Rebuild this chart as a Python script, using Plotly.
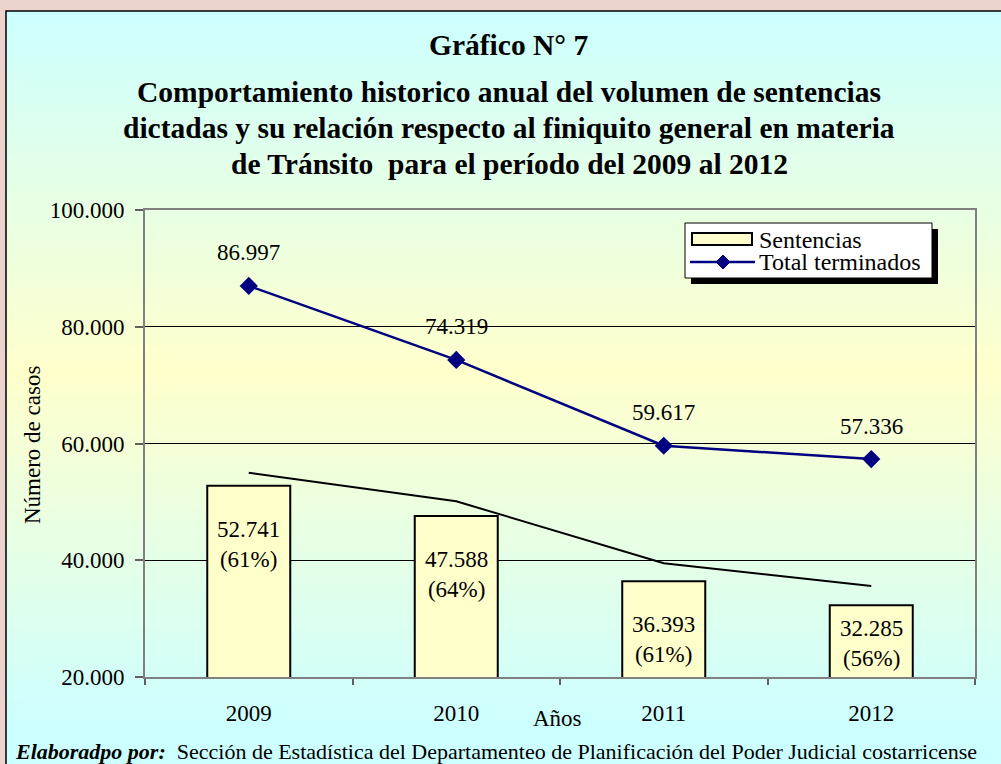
import plotly.graph_objects as go

# ---------------- data ----------------
years = ["2009", "2010", "2011", "2012"]
sentencias = [52741, 47588, 36393, 32285]
pct_sentencias = [61, 64, 61, 56]
total_terminados = [86997, 74319, 59617, 57336]
linea_negra = [55000, 50100, 39500, 35600]
y_ticks = [20000, 40000, 60000, 80000, 100000]

FONT = "Liberation Serif"
W, H = 1001, 764
L, R, T, B = 145, 975, 210, 677  # plot area in px


def px_x(px):
    return (px - L) / (R - L)


def px_y(py):
    return (B - py) / (B - T)


def fmt(v):
    return f"{v:,}".replace(",", ".")


fig = go.Figure()
fig.add_trace(go.Bar(
    x=years, y=sentencias, name="Sentencias", width=0.4, showlegend=False,
    marker=dict(color="#FFFFCC", line=dict(color="black", width=2)),
))
fig.add_trace(go.Scatter(
    x=years, y=total_terminados, name="Total terminados", mode="lines+markers",
    showlegend=False,
    line=dict(color="#000080", width=2.5),
    marker=dict(symbol="diamond", size=14, color="#000080"),
))
fig.add_trace(go.Scatter(
    x=years, y=linea_negra, mode="lines", showlegend=False, hoverinfo="skip",
    line=dict(color="black", width=2),
))

shapes = []
# chart frame
shapes.append(dict(type="rect", xref="paper", yref="paper", layer="below",
                   x0=px_x(6), x1=px_x(1010), y0=px_y(800), y1=px_y(11),
                   fillcolor="#CCFFFF", line=dict(color="black", width=1.5)))
# vertical gradient cyan -> yellow -> cyan
g_top, g_bot = 12, 730
n = 120
cyan = (204, 255, 255)
yellow = (255, 255, 204)
for i in range(n):
    y0 = g_top + (g_bot - g_top) * i / n
    y1 = g_top + (g_bot - g_top) * (i + 1) / n
    t = ((y0 + y1) / 2 - g_top) / (g_bot - g_top)
    f = 1 - abs(2 * t - 1)
    c = tuple(round(cyan[k] + (yellow[k] - cyan[k]) * f) for k in range(3))
    shapes.append(dict(type="rect", xref="paper", yref="paper", layer="below",
                       x0=px_x(7), x1=px_x(1010), y0=px_y(y1 + 0.5), y1=px_y(y0),
                       fillcolor=f"rgb{c}", line=dict(width=0)))

# ---- legend box (drawn) ----
shapes.append(dict(type="rect", xref="paper", yref="paper", layer="above",
                   x0=px_x(691), x1=px_x(938), y0=px_y(284), y1=px_y(229),
                   fillcolor="black", line=dict(width=0)))
shapes.append(dict(type="rect", xref="paper", yref="paper", layer="above",
                   x0=px_x(685), x1=px_x(932), y0=px_y(278), y1=px_y(223),
                   fillcolor="white", line=dict(color="black", width=1)))
# Sentencias swatch
shapes.append(dict(type="rect", xref="paper", yref="paper", layer="above",
                   x0=px_x(692), x1=px_x(752), y0=px_y(245), y1=px_y(233),
                   fillcolor="#FFFFCC", line=dict(color="black", width=2)))
# Total terminados swatch
shapes.append(dict(type="line", xref="paper", yref="paper", layer="above",
                   x0=px_x(690), x1=px_x(755), y0=px_y(262), y1=px_y(262),
                   line=dict(color="#000080", width=2.5)))
cx, cy, d = 723, 262, 7
shapes.append(dict(type="path", xref="paper", yref="paper", layer="above",
                   path=(f"M{px_x(cx)},{px_y(cy - d)} L{px_x(cx + d)},{px_y(cy)} "
                         f"L{px_x(cx)},{px_y(cy + d)} L{px_x(cx - d)},{px_y(cy)} Z"),
                   fillcolor="#000080", line=dict(color="#000080", width=1)))

annotations = []
# legend texts
for txt, py in [("Sentencias", 240), ("Total terminados", 262)]:
    annotations.append(dict(text=txt, xref="paper", yref="paper", x=px_x(757), y=px_y(py),
                            xanchor="left", yanchor="middle", showarrow=False,
                            font=dict(family=FONT, size=24, color="black")))
# title
title_lines = [
    ("Gráfico N° 7", 45),
    ("Comportamiento historico anual del volumen de sentencias", 92),
    ("dictadas y su relación respecto al finiquito general en materia", 128),
    ("de Tránsito\u00a0 para el período del 2009 al 2012", 164),
]
for txt, py in title_lines:
    annotations.append(dict(text=f"<b>{txt}</b>", xref="paper", yref="paper",
                            x=px_x(509), y=px_y(py), xanchor="center", yanchor="middle",
                            showarrow=False, font=dict(family=FONT, size=29.5, color="black")))
# bar labels (x given as category index)
for i, (v, p) in enumerate(zip(sentencias, pct_sentencias)):
    annotations.append(dict(text=f"{fmt(v)}<br>({p}%)", x=i, y=max(v - 10000, 25800),
                            xref="x", yref="y", showarrow=False,
                            xanchor="center", yanchor="middle",
                            font=dict(family=FONT, size=23, color="black")))
# line labels
for i, v in enumerate(total_terminados):
    annotations.append(dict(text=fmt(v), x=i, y=v, xref="x", yref="y", showarrow=False,
                            xanchor="center", yanchor="middle", yshift=33,
                            font=dict(family=FONT, size=23, color="black")))
# axis titles
annotations.append(dict(text="Número de casos", xref="paper", yref="paper",
                        x=px_x(32), y=px_y(445), textangle=-90, showarrow=False,
                        xanchor="center", yanchor="middle",
                        font=dict(family=FONT, size=23, color="black")))
annotations.append(dict(text="Años", xref="paper", yref="paper",
                        x=px_x(557), y=px_y(718), showarrow=False,
                        xanchor="center", yanchor="middle",
                        font=dict(family=FONT, size=23, color="black")))
# footer
annotations.append(dict(
    text="<b><i>Elaboradpo por:</i></b>\u00a0 Sección de Estadística del Departamenteo de Planificación del Poder Judicial costarricense",
    xref="paper", yref="paper", x=px_x(13), y=px_y(751), xanchor="left", yanchor="middle",
    showarrow=False, font=dict(family=FONT, size=22, color="black")))

fig.update_layout(
    width=W, height=H,
    margin=dict(l=L, r=W - R, t=T, b=H - B, pad=0),
    paper_bgcolor="#ECD3CE",
    plot_bgcolor="rgba(0,0,0,0)",
    separators=",.",
    font=dict(family=FONT, size=23, color="black"),
    showlegend=False,
    shapes=shapes,
    annotations=annotations,
    bargap=0.6,
)
fig.update_yaxes(range=[20000, 100000], tickvals=y_ticks, tickformat=",",
                 showgrid=True, gridcolor="black", gridwidth=1, zeroline=False,
                 showline=True, linecolor="#808080", linewidth=2, mirror=True,
                 ticks="outside", ticklen=8, tickcolor="#606060", tickwidth=1.5,
                 ticklabelstandoff=6,
                 tickfont=dict(family=FONT, size=23, color="black"))
fig.update_xaxes(type="category", range=[-0.5, 3.5], tickson="boundaries",
                 showgrid=False, showline=True, linecolor="#808080", linewidth=2, mirror=True,
                 ticks="outside", ticklen=6, tickcolor="#606060", tickwidth=1.5,
                 ticklabelstandoff=14,
                 tickfont=dict(family=FONT, size=23, color="black"))

fig.write_html("out.html", config={"displayModeBar": False},
               post_script="document.body.style.margin='0px';document.body.style.overflow='hidden';")
